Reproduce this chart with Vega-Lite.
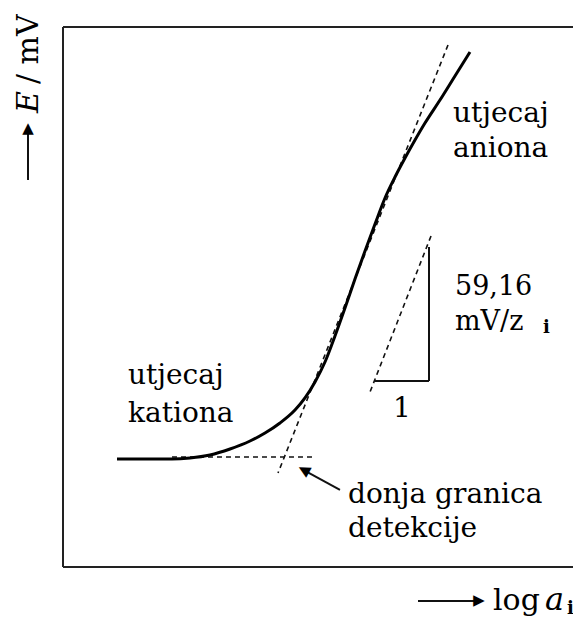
{
  "$schema": "https://vega.github.io/schema/vega-lite/v6.json",
  "width": 510,
  "height": 540,
  "autosize": {"type": "none"},
  "padding": {"left": 63, "top": 27, "right": 0, "bottom": 50},
  "background": "white",
  "config": {"view": {"stroke": null}},
  "datasets": {
    "frame": [
      {"x1": 0, "y1": 0, "x2": 0, "y2": 10},
      {"x1": 0, "y1": 10, "x2": 10, "y2": 10},
      {"x1": 0, "y1": 0, "x2": 10, "y2": 0}
    ],
    "curve": [
      {"x": 1.059, "y": 2.0},
      {"x": 2.137, "y": 2.0},
      {"x": 2.49, "y": 2.019},
      {"x": 2.882, "y": 2.074},
      {"x": 3.275, "y": 2.185},
      {"x": 3.667, "y": 2.333},
      {"x": 3.961, "y": 2.481},
      {"x": 4.255, "y": 2.667},
      {"x": 4.549, "y": 2.907},
      {"x": 4.745, "y": 3.13},
      {"x": 4.941, "y": 3.426},
      {"x": 5.137, "y": 3.796},
      {"x": 5.333, "y": 4.278},
      {"x": 5.529, "y": 4.796},
      {"x": 5.725, "y": 5.333},
      {"x": 5.922, "y": 5.852},
      {"x": 6.118, "y": 6.352},
      {"x": 6.314, "y": 6.833},
      {"x": 6.51, "y": 7.222},
      {"x": 6.706, "y": 7.574},
      {"x": 6.902, "y": 7.907},
      {"x": 7.098, "y": 8.222},
      {"x": 7.392, "y": 8.648},
      {"x": 7.686, "y": 9.093},
      {"x": 7.98, "y": 9.537}
    ],
    "dashed": [
      {"name": "tangent", "x1": 7.549, "y1": 9.667, "x2": 4.216, "y2": 1.741},
      {"name": "baseline", "x1": 2.137, "y1": 2.037, "x2": 4.902, "y2": 2.037},
      {"name": "hypotenuse", "x1": 7.216, "y1": 6.13, "x2": 6.02, "y2": 3.241}
    ],
    "solid": [
      {"name": "rise", "x1": 7.176, "y1": 5.926, "x2": 7.176, "y2": 3.444},
      {"name": "run", "x1": 6.118, "y1": 3.444, "x2": 7.176, "y2": 3.444},
      {"name": "pointer", "x1": 5.431, "y1": 1.426, "x2": 4.702, "y2": 1.804},
      {"name": "yarrow", "x1": -0.686, "y1": 7.167, "x2": -0.686, "y2": 8.13},
      {"name": "xarrow", "x1": 6.961, "y1": -0.63, "x2": 8.167, "y2": -0.63}
    ],
    "headPointer": [{"x": 4.702, "y": 1.804, "t": "▲"}],
    "headY": [{"x": -0.686, "y": 8.13, "t": "▲"}],
    "headX": [{"x": 8.167, "y": -0.63, "t": "▲"}],
    "labels": [
      {"x": 7.647, "y": 8.241, "t": "utjecaj"},
      {"x": 7.647, "y": 7.593, "t": "aniona"},
      {"x": 1.275, "y": 3.389, "t": "utjecaj"},
      {"x": 1.275, "y": 2.685, "t": "kationa"},
      {"x": 5.588, "y": 1.185, "t": "donja granica"},
      {"x": 5.588, "y": 0.556, "t": "detekcije"}
    ],
    "logtext": [{"x": 8.431, "y": -0.796, "t": "log"}],
    "slope": [
      {"x": 7.686, "y": 5.037, "t": "59,16"},
      {"x": 7.686, "y": 4.389, "t": "mV/z"}
    ],
    "one": [{"x": 6.647, "y": 2.778, "t": "1"}],
    "subs": [
      {"x": 9.412, "y": 4.333, "t": "i"},
      {"x": 9.882, "y": -0.87, "t": "i"}
    ],
    "italic": [{"x": 9.451, "y": -0.796, "t": "a"}],
    "ytitleE": [{"x": -0.49, "y": 8.407, "t": "E"}],
    "ytitleRest": [{"x": -0.49, "y": 8.944, "t": "/ mV"}]
  },
  "layer": [
    {
      "data": {"name": "frame"},
      "mark": {"type": "rule", "stroke": "#222222", "strokeWidth": 2},
      "encoding": {
        "x": {"field": "x1", "type": "quantitative", "scale": {"domain": [0, 10], "nice": false, "zero": false}, "axis": null},
        "x2": {"field": "x2"},
        "y": {"field": "y1", "type": "quantitative", "scale": {"domain": [0, 10], "nice": false, "zero": false}, "axis": null},
        "y2": {"field": "y2"}
      }
    },
    {
      "data": {"name": "dashed"},
      "mark": {"type": "rule", "stroke": "#111111", "strokeWidth": 1.6, "strokeDash": [5, 4]},
      "encoding": {
        "x": {"field": "x1", "type": "quantitative"},
        "x2": {"field": "x2"},
        "y": {"field": "y1", "type": "quantitative"},
        "y2": {"field": "y2"}
      }
    },
    {
      "data": {"name": "solid"},
      "mark": {"type": "rule", "stroke": "#111111", "strokeWidth": 2},
      "encoding": {
        "x": {"field": "x1", "type": "quantitative"},
        "x2": {"field": "x2"},
        "y": {"field": "y1", "type": "quantitative"},
        "y2": {"field": "y2"}
      }
    },
    {
      "data": {"name": "curve"},
      "mark": {"type": "line", "interpolate": "monotone", "stroke": "#000000", "strokeWidth": 3},
      "encoding": {
        "x": {"field": "x", "type": "quantitative"},
        "y": {"field": "y", "type": "quantitative"}
      }
    },
    {
      "data": {"name": "headPointer"},
      "mark": {"type": "text", "font": "DejaVu Sans", "fill": "#000000", "fontSize": 15, "align": "center", "baseline": "middle", "angle": 299},
      "encoding": {
        "x": {"field": "x", "type": "quantitative"},
        "y": {"field": "y", "type": "quantitative"},
        "text": {"field": "t"}
      }
    },
    {
      "data": {"name": "headY"},
      "mark": {"type": "text", "font": "DejaVu Sans", "fill": "#000000", "fontSize": 15, "align": "center", "baseline": "middle", "angle": 0},
      "encoding": {
        "x": {"field": "x", "type": "quantitative"},
        "y": {"field": "y", "type": "quantitative"},
        "text": {"field": "t"}
      }
    },
    {
      "data": {"name": "headX"},
      "mark": {"type": "text", "font": "DejaVu Sans", "fill": "#000000", "fontSize": 15, "align": "center", "baseline": "middle", "angle": 90},
      "encoding": {
        "x": {"field": "x", "type": "quantitative"},
        "y": {"field": "y", "type": "quantitative"},
        "text": {"field": "t"}
      }
    },
    {
      "data": {"name": "labels"},
      "mark": {"type": "text", "font": "DejaVu Serif", "fill": "#000000", "fontSize": 28, "align": "left", "baseline": "alphabetic"},
      "encoding": {
        "x": {"field": "x", "type": "quantitative"},
        "y": {"field": "y", "type": "quantitative"},
        "text": {"field": "t"}
      }
    },
    {
      "data": {"name": "logtext"},
      "mark": {"type": "text", "font": "DejaVu Serif", "fill": "#000000", "fontSize": 30, "align": "left", "baseline": "alphabetic"},
      "encoding": {
        "x": {"field": "x", "type": "quantitative"},
        "y": {"field": "y", "type": "quantitative"},
        "text": {"field": "t"}
      }
    },
    {
      "data": {"name": "slope"},
      "mark": {"type": "text", "font": "DejaVu Serif", "fill": "#000000", "fontSize": 27, "align": "left", "baseline": "alphabetic"},
      "encoding": {
        "x": {"field": "x", "type": "quantitative"},
        "y": {"field": "y", "type": "quantitative"},
        "text": {"field": "t"}
      }
    },
    {
      "data": {"name": "one"},
      "mark": {"type": "text", "font": "DejaVu Serif", "fill": "#000000", "fontSize": 28, "align": "center", "baseline": "alphabetic"},
      "encoding": {
        "x": {"field": "x", "type": "quantitative"},
        "y": {"field": "y", "type": "quantitative"},
        "text": {"field": "t"}
      }
    },
    {
      "data": {"name": "subs"},
      "mark": {"type": "text", "font": "DejaVu Serif", "fill": "#000000", "fontSize": 18, "fontWeight": "bold", "align": "left", "baseline": "alphabetic"},
      "encoding": {
        "x": {"field": "x", "type": "quantitative"},
        "y": {"field": "y", "type": "quantitative"},
        "text": {"field": "t"}
      }
    },
    {
      "data": {"name": "italic"},
      "mark": {"type": "text", "font": "DejaVu Serif", "fill": "#000000", "fontSize": 32, "fontStyle": "italic", "align": "left", "baseline": "alphabetic"},
      "encoding": {
        "x": {"field": "x", "type": "quantitative"},
        "y": {"field": "y", "type": "quantitative"},
        "text": {"field": "t"}
      }
    },
    {
      "data": {"name": "ytitleE"},
      "mark": {"type": "text", "font": "DejaVu Serif", "fill": "#000000", "fontSize": 30, "fontStyle": "italic", "angle": 270, "align": "left", "baseline": "alphabetic"},
      "encoding": {
        "x": {"field": "x", "type": "quantitative"},
        "y": {"field": "y", "type": "quantitative"},
        "text": {"field": "t"}
      }
    },
    {
      "data": {"name": "ytitleRest"},
      "mark": {"type": "text", "font": "DejaVu Serif", "fill": "#000000", "fontSize": 30, "angle": 270, "align": "left", "baseline": "alphabetic"},
      "encoding": {
        "x": {"field": "x", "type": "quantitative"},
        "y": {"field": "y", "type": "quantitative"},
        "text": {"field": "t"}
      }
    }
  ]
}
